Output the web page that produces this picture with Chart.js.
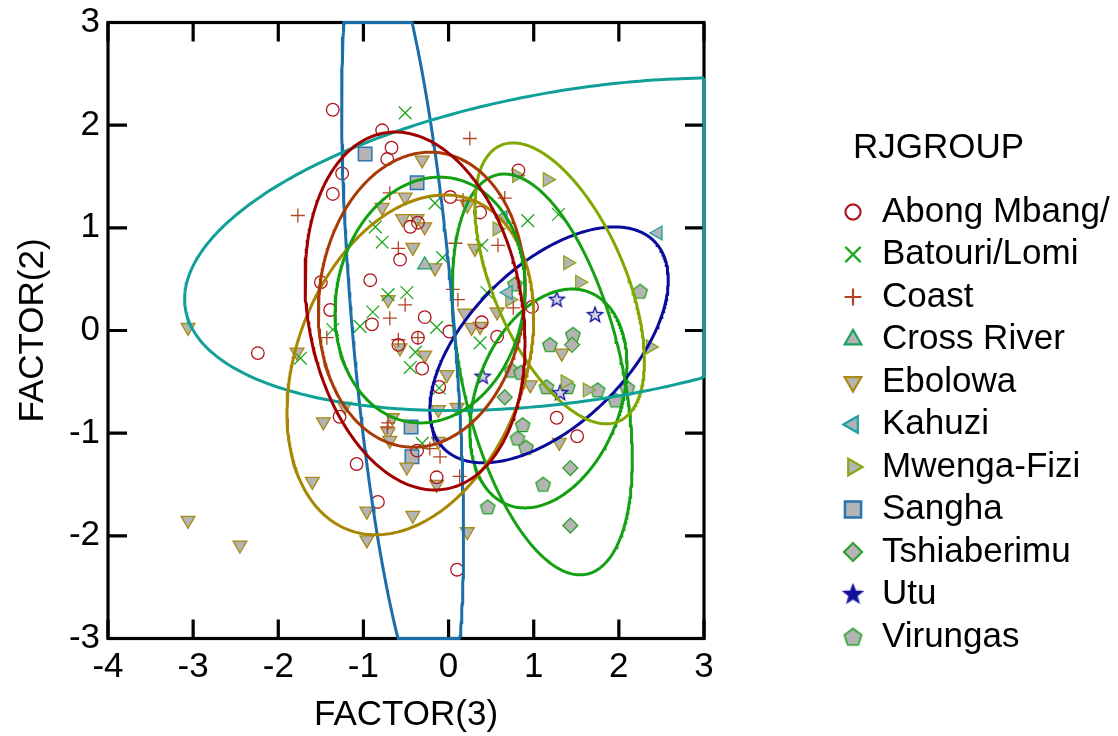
<!DOCTYPE html>
<html>
<head>
<meta charset="utf-8">
<script src="https://cdn.jsdelivr.net/npm/chart.js@4.4.0/dist/chart.umd.min.js"></script>
<style>
  html, body { margin: 0; padding: 0; background: #ffffff; }
  #wrap { width: 1118px; height: 736px; }
</style>
</head>
<body>
<div id="wrap"><canvas id="chart" width="1118" height="736"></canvas></div>
<script>
// ---- axis ticks ----
const xTicks = [-4, -3, -2, -1, 0, 1, 2, 3];
const yTicks = [-3, -2, -1, 0, 1, 2, 3];

// ---- group names ----
const groupNames = ['Abong Mbang/', 'Batouri/Lomi', 'Coast', 'Cross River', 'Ebolowa',
  'Kahuzi', 'Mwenga-Fizi', 'Sangha', 'Tshiaberimu', 'Utu', 'Virungas'];

// ---- observations: [FACTOR(3), FACTOR(2)] ----
const abongMbang = [[-1.36,2.15],[-0.78,1.95],[-0.67,1.78],[-0.72,1.67],[-1.25,1.53],[-1.36,1.33],
  [0.02,1.30],[0.37,1.15],[-0.45,1.01],[-0.36,1.05],[-0.57,0.69],[-0.92,0.49],[0.82,1.56],
  [-1.50,0.47],[-1.39,0.20],[-2.24,-0.22],[-0.90,0.06],[-0.28,0.13],[-0.59,-0.14],[-0.36,-0.07],
  [-0.31,-0.37],[0.01,-0.01],[0.39,0.08],[0.57,-0.06],[0.98,0.23],[-0.11,-0.55],[-1.28,-0.84],
  [-0.37,-1.17],[-1.08,-1.30],[-0.83,-1.67],[-0.14,-1.43],[0.10,-2.33],[1.27,-0.85],[1.51,-1.03]];
const batouriLomi = [[-0.51,2.12],[-0.16,1.24],[-0.86,1.01],[-0.78,0.86],[0.39,0.83],[-0.07,0.71],
  [0.93,1.07],[1.29,1.13],[0.45,0.37],[0.37,-0.12],[-0.49,0.37],[-0.71,0.35],[-0.89,0.18],
  [-1.04,0.04],[-1.36,0.01],[-0.14,0.03],[-0.39,-0.21],[-0.45,-0.36],[-0.11,-0.56],[-0.31,-1.10],
  [-1.74,-0.27]];
const coast = [[0.25,1.87],[-0.69,1.34],[0.17,1.27],[0.66,1.29],[-0.59,0.80],[0.08,0.85],[0.58,0.83],
  [-1.77,1.12],[0.05,0.40],[0.11,0.30],[0.76,0.22],[-1.43,-0.07],[-0.69,0.12],[-0.51,0.25],
  [-0.59,-0.09],[-0.36,-0.07],[-0.71,-0.90],[-0.22,-1.15],[-0.10,-1.23],[-0.72,-0.94],[0.13,-1.42]];
const crossRiver = [[-0.28,0.64]];
const ebolowa = [[-3.06,0.03],[-3.06,-1.85],[-2.45,-2.09],[-1.60,-1.47],[-0.96,-1.76],[-0.42,-1.80],
  [-0.96,-2.04],[0.22,-1.96],[-0.49,-1.33],[-0.14,-1.50],[-1.78,-0.21],[-1.47,-0.89],[-1.22,-0.74],
  [-0.66,-0.85],[-0.71,-0.99],[-0.69,-1.07],[-0.12,-1.08],[-0.12,-0.77],[0.10,-0.75],[-0.71,0.30],
  [-0.57,-0.17],[-0.28,-0.24],[-0.02,-0.43],[0.19,0.17],[0.27,0.03],[0.37,0.04],[0.57,0.18],
  [0.96,-0.53],[-0.31,1.66],[-0.78,1.20],[-0.51,1.30],[-0.54,1.09],[-0.37,1.09],[-0.28,1.01],
  [-0.42,0.81],[0.31,0.80],[-0.16,0.61],[0.22,1.22],[1.33,-0.22],[1.30,-1.09]];
const kahuzi = [[2.46,0.95],[0.64,1.10],[0.70,0.37]];
const mwengaFizi = [[0.80,1.51],[1.16,1.47],[0.57,0.99],[1.40,0.66],[1.54,0.47],[0.72,0.30],
  [2.37,-0.16],[1.37,-0.50],[1.63,-0.58]];
const sangha = [[-0.98,1.72],[-0.37,1.44],[-0.44,-0.94],[-0.43,-1.23]];
const tshiaberimu = [[1.45,-0.14],[1.43,-1.34],[1.43,-1.90],[0.66,-0.65]];
const utu = [[1.27,0.30],[1.72,0.15],[0.40,-0.45],[1.31,-0.61]];
const virungas = [[1.19,-0.14],[1.46,-0.04],[0.74,-0.39],[0.85,-0.41],[1.15,-0.55],[1.40,-0.55],
  [1.75,-0.58],[1.96,-0.68],[2.10,-0.56],[0.87,-0.92],[0.81,-1.05],[0.91,-1.14],[1.11,-1.50],
  [2.25,0.38],[0.46,-1.72],[0.78,0.45]];

const groupPoints = [abongMbang, batouriLomi, coast, crossRiver, ebolowa, kahuzi,
  mwengaFizi, sangha, tshiaberimu, utu, virungas];

// ---- confidence ellipses: [centre x, centre y, sd x, sd y, correlation] ----
const ellipseAbongMbang  = [-0.394, 0.19, 1.292, 1.743, -0.18];
const ellipseBatouriLomi = [-0.218, 0.297, 1.116, 1.197, 0.10];
const ellipseCoast       = [-0.315, 0.30, 1.215, 1.437, 0.08];
const ellipseEbolowa     = [-0.449, -0.335, 1.449, 1.655, 0.28];
const ellipseKahuzi      = [1.59, 0.84, 4.69, 1.62, 0.33];
const ellipseMwengaFizi  = [1.305, 0.459, 0.995, 1.368, -0.55];
const ellipseSangha      = [-0.54, 0.10, 0.716, 3.9, -0.545];
const ellipseTshiaberimu = [1.10, -0.428, 1.058, 1.952, -0.42];
const ellipseUtu         = [1.18, -0.14, 1.40, 1.149, 0.55];
const ellipseVirungas    = [1.173, -0.662, 0.923, 1.066, 0.30];

const groupEllipses = [ellipseAbongMbang, ellipseBatouriLomi, ellipseCoast, null, ellipseEbolowa,
  ellipseKahuzi, ellipseMwengaFizi, ellipseSangha, ellipseTshiaberimu, ellipseUtu, ellipseVirungas];

// ---- styling ----
const FONT = "'Liberation Sans', Arial, sans-serif";
const GREY = '#b4b4b4';

function makeStar(stroke, fill) {
  const c = document.createElement('canvas');
  c.width = 20; c.height = 20;
  const g = c.getContext('2d');
  g.translate(10, 10);
  g.beginPath();
  for (let i = 0; i < 10; i++) {
    const r = i % 2 === 0 ? 8 : 3.4;
    const a = -Math.PI / 2 + i * Math.PI / 5;
    g.lineTo(r * Math.cos(a), r * Math.sin(a));
  }
  g.closePath();
  g.fillStyle = fill; g.fill();
  g.lineWidth = 1.3; g.strokeStyle = stroke; g.stroke();
  return c;
}
function makePentagon(stroke, fill) {
  const c = document.createElement('canvas');
  c.width = 20; c.height = 20;
  const g = c.getContext('2d');
  g.translate(10, 10.5);
  g.beginPath();
  for (let i = 0; i < 5; i++) {
    const a = -Math.PI / 2 + i * 2 * Math.PI / 5;
    g.lineTo(7.6 * Math.cos(a), 7.6 * Math.sin(a));
  }
  g.closePath();
  g.fillStyle = fill; g.fill();
  g.lineWidth = 1.3; g.strokeStyle = stroke; g.stroke();
  return c;
}

const markerStyles = [
  { style: 'circle',   radius: 6.3, rot: 0,   fill: 'rgba(0,0,0,0)', stroke: '#b0141c', bw: 1.3 },
  { style: 'crossRot', radius: 9,   rot: 0,   fill: 'rgba(0,0,0,0)', stroke: '#1aa81a', bw: 1.3 },
  { style: 'cross',    radius: 7,   rot: 0,   fill: 'rgba(0,0,0,0)', stroke: '#b04424', bw: 1.3 },
  { style: 'triangle', radius: 8,   rot: 0,   fill: GREY, stroke: '#1aa060', bw: 1.3 },
  { style: 'triangle', radius: 8,   rot: 180, fill: GREY, stroke: '#a88a14', bw: 1.3 },
  { style: 'triangle', radius: 8,   rot: 270, fill: GREY, stroke: '#1aa0a0', bw: 1.3 },
  { style: 'triangle', radius: 8,   rot: 90,  fill: GREY, stroke: '#88a818', bw: 1.3 },
  { style: 'rect',     radius: 9.5, rot: 0,   fill: GREY, stroke: '#2a74b0', bw: 1.5 },
  { style: 'rectRot',  radius: 7.5, rot: 0,   fill: GREY, stroke: '#30a030', bw: 1.3 },
  { style: makeStar('#10109c', '#d4d4e4'), key: makeStar('#10109c', '#10109c'), radius: 8, rot: 0, fill: GREY, stroke: '#10109c', bw: 1.3 },
  { style: makePentagon('#22a022', GREY), radius: 8, rot: 0, fill: GREY, stroke: '#22a022', bw: 1.3 }
];
const ellipseColors = ['#a00000', '#12a012', '#a83a08', '#10a050', '#a88600', '#10a098',
  '#80a800', '#1a6eaa', '#16a016', '#0a0a9c', '#10a010'];

// ---- ellipse outline, held inside the plotting box ----
function ellipsePath(p) {
  const [cx, cy, sx, sy, r] = p;
  const k = Math.sqrt(1 - r * r);
  const out = [];
  const n = 360;
  for (let i = 0; i <= n; i++) {
    const t = (i / n) * 2 * Math.PI;
    let x = cx + sx * Math.cos(t);
    let y = cy + sy * (r * Math.cos(t) + k * Math.sin(t));
    x = Math.min(xTicks[xTicks.length - 1], Math.max(xTicks[0], x));
    y = Math.min(yTicks[yTicks.length - 1], Math.max(yTicks[0], y));
    out.push({ x, y });
  }
  return out;
}

const datasets = [];
groupNames.forEach((name, i) => {
  const m = markerStyles[i];
  datasets.push({
    label: name,
    data: groupPoints[i].map(([x, y]) => ({ x, y })),
    pointStyle: m.style,
    pointRadius: m.radius,
    pointHoverRadius: m.radius,
    pointRotation: m.rot,
    pointBackgroundColor: m.fill,
    pointBorderColor: m.stroke,
    pointBorderWidth: m.bw,
    showLine: false,
    order: 2
  });
});
groupNames.forEach((name, i) => {
  if (!groupEllipses[i]) return;
  datasets.push({
    label: name + ' ellipse',
    data: ellipsePath(groupEllipses[i]),
    showLine: true,
    borderColor: ellipseColors[i],
    borderWidth: 3,
    pointRadius: 0,
    pointHoverRadius: 0,
    tension: 0,
    fill: false,
    clip: false,
    order: 1
  });
});

// ---- boxed frame with inward ticks on all four sides ----
const framePlugin = {
  id: 'frame',
  beforeDatasetsDraw(chart) {
    const { ctx, chartArea: a, scales } = chart;
    const tl = 19;
    ctx.save();
    ctx.strokeStyle = '#000';
    ctx.lineWidth = 3.2;
    ctx.lineCap = 'butt';
    ctx.strokeRect(a.left, a.top, a.right - a.left, a.bottom - a.top);
    ctx.beginPath();
    xTicks.forEach(v => {
      const px = scales.x.getPixelForValue(v);
      ctx.moveTo(px, a.bottom); ctx.lineTo(px, a.bottom - tl);
      ctx.moveTo(px, a.top); ctx.lineTo(px, a.top + tl);
    });
    yTicks.forEach(v => {
      const py = scales.y.getPixelForValue(v);
      ctx.moveTo(a.left, py); ctx.lineTo(a.left + tl, py);
      ctx.moveTo(a.right, py); ctx.lineTo(a.right - tl, py);
    });
    ctx.stroke();
    ctx.restore();
  }
};

// ---- group key on the right ----
const keyPlugin = {
  id: 'groupKey',
  afterDraw(chart) {
    const ctx = chart.ctx;
    ctx.save();
    ctx.fillStyle = '#000';
    ctx.font = '35px ' + FONT;
    ctx.textBaseline = 'middle';
    ctx.textAlign = 'left';
    ctx.fillText('RJGROUP', 853, 148);
    groupNames.forEach((name, i) => {
      const y = 212 + i * 42.5;
      const m = markerStyles[i];
      ctx.save();
      ctx.translate(853, y);
      ctx.scale(1.2, 1.2);
      ctx.fillStyle = m.fill;
      ctx.strokeStyle = m.stroke;
      ctx.lineWidth = m.bw * 1.4;
      Chart.helpers.drawPoint(ctx, { pointStyle: m.key || m.style, rotation: m.rot, radius: m.radius, borderWidth: m.bw }, 0, 0);
      ctx.restore();
      ctx.fillStyle = '#000';
      ctx.fillText(name, 882, y);
    });
    ctx.restore();
  }
};

new Chart(document.getElementById('chart'), {
  type: 'scatter',
  data: { datasets },
  options: {
    responsive: false,
    animation: false,
    events: [],
    devicePixelRatio: 1,
    layout: { padding: { left: 0, right: 414, top: 22.5, bottom: 0 } },
    plugins: { legend: { display: false }, tooltip: { enabled: false } },
    scales: {
      x: {
        type: 'linear', min: xTicks[0], max: xTicks[xTicks.length - 1],
        afterBuildTicks: s => { s.ticks = xTicks.map(v => ({ value: v })); },
        afterFit: s => { s.height = 97.5; s.paddingLeft = 0; s.paddingRight = 0; },
        grid: { display: false, drawTicks: false },
        border: { display: false },
        ticks: { color: '#000', font: { size: 35, family: FONT }, padding: 8, maxRotation: 0, autoSkip: false },
        title: { display: true, text: 'FACTOR(3)', color: '#000', font: { size: 35, family: FONT }, padding: { top: 0, bottom: 0 } }
      },
      y: {
        type: 'linear', min: yTicks[0], max: yTicks[yTicks.length - 1],
        afterBuildTicks: s => { s.ticks = yTicks.map(v => ({ value: v })); },
        afterFit: s => { s.width = 108; s.paddingTop = 0; s.paddingBottom = 0; },
        grid: { display: false, drawTicks: false },
        border: { display: false },
        ticks: { color: '#000', font: { size: 35, family: FONT }, padding: 8, autoSkip: false },
        title: { display: true, text: 'FACTOR(2)', color: '#000', font: { size: 35, family: FONT }, padding: { top: 12, bottom: 0 } }
      }
    }
  },
  plugins: [framePlugin, keyPlugin]
});
</script>
</body>
</html>
